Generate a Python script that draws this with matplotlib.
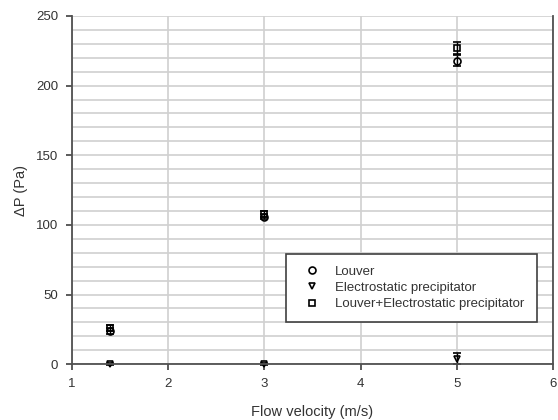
import matplotlib
matplotlib.use("Agg")
import matplotlib.pyplot as plt
from matplotlib.ticker import MultipleLocator

plt.rcParams['font.family'] = ['Liberation Sans', 'DejaVu Sans']

velocity = [1.4, 3.0, 5.0]
louver = [24, 106, 218]
louver_err = [2, 2, 4]
ep = [0, 0, 4]
ep_err = [0.5, 0.5, 4]
combined = [26, 108, 227]
combined_err = [2, 2, 4]

text_color = '#333333'

fig = plt.figure(figsize=(5.58, 4.2), dpi=100)
ax = fig.add_axes([0.129, 0.133, 0.862, 0.829])

ax.set_xlim(1, 6)
ax.set_ylim(0, 250)
ax.xaxis.set_major_locator(MultipleLocator(1))
ax.yaxis.set_major_locator(MultipleLocator(50))
ax.yaxis.set_minor_locator(MultipleLocator(10))
ax.grid(True, which='major', axis='x', color='#d0d0d0', lw=1.2)
ax.grid(True, which='both', axis='y', color='#d0d0d0', lw=1.2)
ax.set_axisbelow(True)
ax.tick_params(axis='both', which='major', direction='out', length=4, width=1.2, color='#404040',
               labelsize=9.5, pad=6, labelcolor=text_color)
ax.tick_params(axis='y', which='minor', length=0)
for s in ax.spines.values():
    s.set_color('#505050')
    s.set_linewidth(1.3)
ax.spines['top'].set_visible(False)

kw = dict(ls='none', mfc='none', mec='black', ecolor='black', ms=5, mew=1.2, capsize=3, elinewidth=1, capthick=1, clip_on=False)
ax.errorbar(velocity, louver, yerr=louver_err, marker='o', label='Louver', **kw)
ax.errorbar(velocity, ep, yerr=ep_err, marker='v', label='Electrostatic precipitator', **kw)
ax.errorbar(velocity, combined, yerr=combined_err, marker='s', label='Louver+Electrostatic precipitator', **kw)

ax.set_xlabel('Flow velocity (m/s)', fontsize=10.5, labelpad=11, color=text_color)
ax.set_ylabel('ΔP (Pa)', fontsize=10.5, labelpad=6, color=text_color)

handles, labels = ax.get_legend_handles_labels()
handles = [h[0] for h in handles]
leg = ax.legend(handles, labels, loc='lower left', bbox_to_anchor=(0.445, 0.121, 0.522, 0.2), mode='expand',
                borderaxespad=0,
                fontsize=9.5, frameon=True, fancybox=False, framealpha=1, edgecolor='#404040',
                handlelength=2.1, handletextpad=0.7, borderpad=0.9, labelspacing=0.3, markerscale=1.0,
                labelcolor=text_color)
leg.get_frame().set_linewidth(1.2)

fig.savefig('out.png', dpi=100)
